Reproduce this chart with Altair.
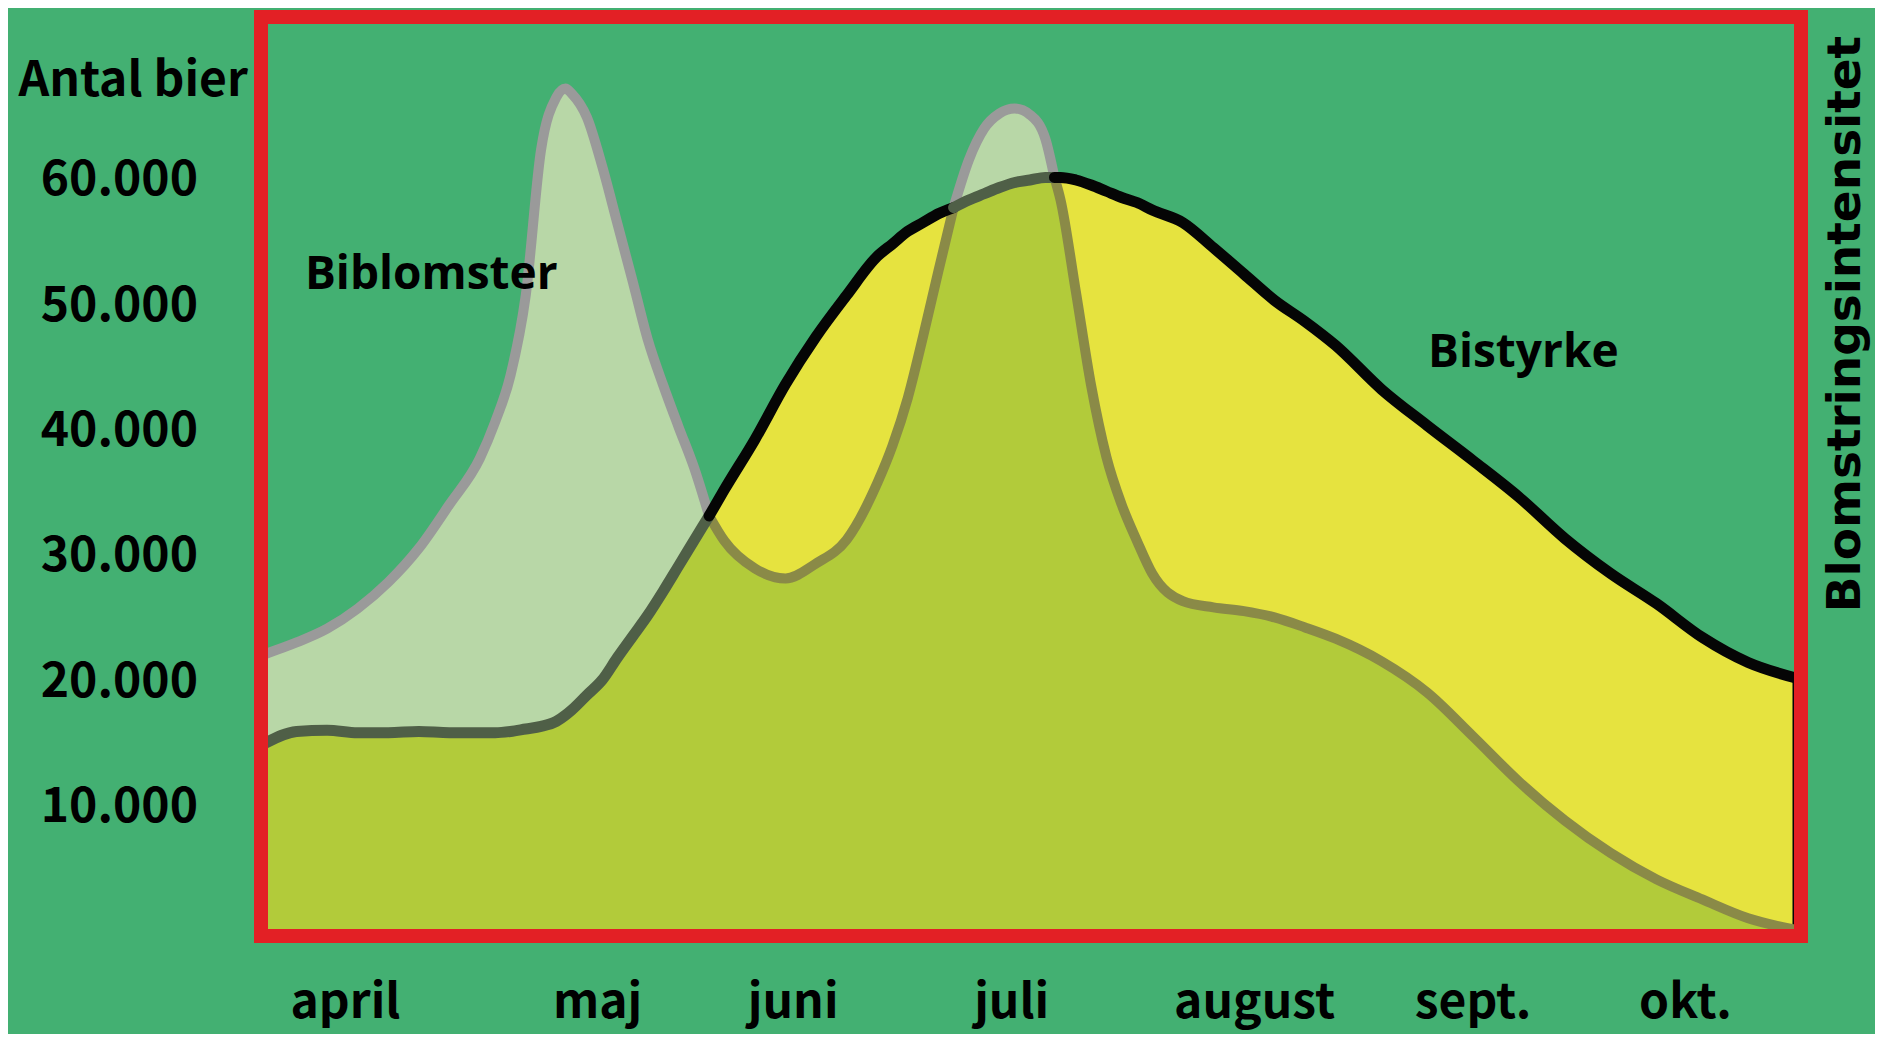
import altair as alt
import pandas as pd

# ---- data -------------------------------------------------------------
t = [0, 2, 4, 6, 8, 10, 12, 14, 15, 16, 17, 18, 19, 19.6, 20, 21, 22, 23, 24, 25,
     26, 27, 28, 29, 30, 32, 34, 36, 38, 40, 41, 42, 43, 44, 45, 46, 47, 48, 49,
     50, 51, 51.6, 52, 53, 54, 55, 56, 57, 58, 60, 62, 64, 66, 68, 70, 73, 76,
     79, 82, 85, 88, 91, 94, 97, 100]

biblomster = [22000, 22900, 24000, 25600, 27700, 30400, 33900, 37600, 40500, 44200,
              50600, 62200, 66400, 67100, 66700, 64800, 60900, 56300, 51700, 47000,
              43400, 40100, 36900, 33000, 31000, 28800, 28000, 29200, 31100, 35600,
              38600, 42400, 47300, 52500, 57600, 61400, 63900, 65100, 65500, 65000,
              63100, 60000, 58200, 50900, 43400, 37700, 33900, 31000, 28400, 26200,
              25700, 25400, 24900, 24100, 23200, 21400, 18900, 15400, 11800, 8700,
              6100, 4000, 2400, 900, 0]

bistyrke = [14900, 15800, 15900, 15700, 15700, 15800, 15700, 15700, 15700, 15800,
            16000, 16200, 16600, 17100, 17500, 18700, 19900, 21700, 23400, 25100,
            27000, 29000, 31000, 33000, 35100, 39100, 43500, 47300, 50600, 53700,
            54700, 55700, 56400, 57100, 57600, 58200, 58700, 59200, 59600, 59800,
            60000, 60000, 60000, 59800, 59400, 58900, 58400, 58000, 57400, 56400,
            54400, 52300, 50200, 48500, 46600, 43100, 40200, 37400, 34500, 31200,
            28400, 26000, 23300, 21300, 20100]

# points where the two curves cross
crossings = [29, 45, 51.6]

month_names = ["april", "maj", "juni", "juli", "august", "sept.", "okt."]
month_pos = [5.2, 21.7, 34.5, 48.8, 64.7, 79.0, 92.9]
y_ticks = [10000, 20000, 30000, 40000, 50000, 60000]
y_tick_labels = ["10.000", "20.000", "30.000", "40.000", "50.000", "60.000"]
y_title = "Antal bier"
side_title = "Blomstringsintensitet"

label_text = ["Biblomster", "Bistyrke"]
label_t = [2.55, 76.05]
label_v = [51100, 44900]

# ---- layout (in data units of the two scales) -------------------------
X_DOMAIN = [-0.327, 100.458]
Y_DOMAIN = [-519, 72802]
YLAB_T = -4.45        # right edge of the value labels
MONTH_V = -7100       # baseline of the month labels
YTITLE_T, YTITLE_V = -16.2, 66500
SIDE_T, SIDE_V = 103.4, 48300

# ---- style ------------------------------------------------------------
BG = "#43b072"
RED = "#e32025"
YELLOW = "#e6e33f"
LIGHT = "#b8d7a7"
OVERLAP = "#b2cb3a"
BLACK = "#050505"
DARKGREEN = "#4f5f47"
GRAY = "#9a9a9a"
OLIVE = "#8a8a47"
AXFONT = "Noto Sans CJK JP, Open Sans, sans-serif"
AXSIZE = 48
TXTFONT = "Open Sans, DejaVu Sans, sans-serif"
SIDEFONT = "DejaVu Sans, sans-serif"

df = pd.DataFrame({"t": t, "bis": bistyrke, "bib": biblomster})

# line pieces split at the crossings, so each piece gets one colour
bounds = [t[0]] + crossings + [t[-1]]
rows = []
for g in range(len(bounds) - 1):
    lo, hi = bounds[g], bounds[g + 1]
    part = df[(df.t >= lo) & (df.t <= hi)]
    bib_above = (part.bib - part.bis).mean() > 0
    for _, r in part.iterrows():
        rows.append({"t": r.t, "v": r.bib, "grp": f"bib{g}",
                     "col": GRAY if bib_above else OLIVE, "series": "bib"})
        rows.append({"t": r.t, "v": r.bis, "grp": f"bis{g}",
                     "col": DARKGREEN if bib_above else BLACK, "series": "bis"})
lines_df = pd.DataFrame(rows)

lab_df = pd.DataFrame({"label": label_text, "t": label_t, "v": label_v})
ylab_df = pd.DataFrame({"label": y_tick_labels, "v": y_ticks, "t": [YLAB_T] * len(y_ticks)})
mon_df = pd.DataFrame({"label": month_names, "t": month_pos, "v": [MONTH_V] * len(month_names)})
ytitle_df = pd.DataFrame({"label": [y_title], "t": [YTITLE_T], "v": [YTITLE_V]})
side_df = pd.DataFrame({"label": [side_title], "t": [SIDE_T], "v": [SIDE_V]})

x_scale = alt.Scale(domain=X_DOMAIN, nice=False, zero=False)
y_scale = alt.Scale(domain=Y_DOMAIN, nice=False, zero=False)


def X(field="t"):
    return alt.X(f"{field}:Q", scale=x_scale, axis=None)


def Y(field):
    return alt.Y(f"{field}:Q", scale=y_scale, axis=None)


base = alt.Chart(df)

bib_area = base.mark_area(color=LIGHT, opacity=1, interpolate="monotone").encode(
    x=X(), y=Y("bib"))

bis_area = base.mark_area(color=YELLOW, opacity=1, stroke=BLACK, strokeWidth=3,
                          interpolate="monotone").encode(x=X(), y=Y("bis"))

over_area = base.transform_calculate(lo="min(datum.bis, datum.bib)").mark_area(
    color=OVERLAP, opacity=1, interpolate="monotone").encode(x=X(), y=Y("lo"))

bib_line = alt.Chart(lines_df).transform_filter("datum.series == 'bib'").mark_line(
    strokeWidth=10, strokeCap="round", strokeJoin="round", interpolate="monotone"
).encode(x=X(), y=Y("v"), detail="grp:N", color=alt.Color("col:N", scale=None))

bis_line = alt.Chart(lines_df).transform_filter("datum.series == 'bis'").mark_line(
    strokeWidth=11, strokeCap="round", strokeJoin="round", interpolate="monotone"
).encode(x=X(), y=Y("v"), detail="grp:N", color=alt.Color("col:N", scale=None))

labels = alt.Chart(lab_df).mark_text(
    font=TXTFONT, fontSize=46, fontWeight="bold", align="left",
    baseline="alphabetic", color="black"
).encode(x=X(), y=Y("v"), text="label:N")

ylabels = alt.Chart(ylab_df).mark_text(
    font=AXFONT, fontSize=AXSIZE, fontWeight="bold", align="right",
    baseline="middle", dy=4, color="black"
).encode(x=X(), y=Y("v"), text="label:N")

mlabels = alt.Chart(mon_df).mark_text(
    font=AXFONT, fontSize=AXSIZE, fontWeight="bold", align="center",
    baseline="alphabetic", color="black"
).encode(x=X(), y=Y("v"), text="label:N")

ytitle = alt.Chart(ytitle_df).mark_text(
    font=AXFONT, fontSize=AXSIZE, fontWeight="bold", align="left",
    baseline="alphabetic", color="black"
).encode(x=X(), y=Y("v"), text="label:N")

side = alt.Chart(side_df).mark_text(
    font=SIDEFONT, fontSize=47, fontWeight="bold", align="center",
    baseline="middle", angle=270, color="black"
).encode(x=X(), y=Y("v"), text="label:N")

frame = alt.Chart(pd.DataFrame({"k": [0]})).mark_rect(
    fillOpacity=0, stroke=RED, strokeWidth=14, strokeJoin="miter"
).encode(
    x=alt.value(0), x2=alt.value("width"), y=alt.value(0), y2=alt.value("height")
)

chart = alt.layer(
    bib_area, bis_area, over_area, bib_line, bis_line,
    labels, ylabels, mlabels, ytitle, side, frame
).properties(
    width=1540, height=919,
    padding={"left": 253, "top": 9, "right": 74, "bottom": 98},
    autosize=alt.AutoSizeParams(type="none"),
    background=BG,
).configure_view(stroke=None)

chart.save("out.html", embed_options={"renderer": "svg", "actions": False})
